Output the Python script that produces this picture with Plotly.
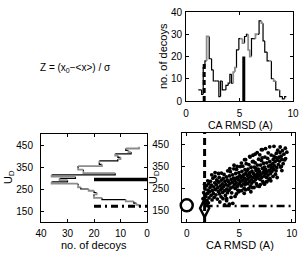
import plotly.graph_objects as go

# ---------------- data ----------------
# top-right histogram of CA RMSD (bin edges and counts)
rmsd_edges = [1.15, 1.46, 1.61, 1.77, 1.93, 2.17, 2.39, 2.55, 2.70, 2.86, 3.07, 3.23, 3.39, 3.57,
              3.73, 3.94, 4.10, 4.25, 4.41, 4.57, 4.72, 4.94, 5.09, 5.28, 5.47, 5.65, 5.81, 5.96,
              6.12, 6.27, 6.49, 6.68, 6.83, 7.05, 7.20, 7.36, 7.58, 7.76, 7.98, 8.20, 8.39, 8.60,
              8.76, 9.01, 9.22, 9.38]
rmsd_counts = [5, 3, 15, 18, 29, 19, 14, 9, 9, 9, 2, 9, 5, 5, 7, 8, 12, 8, 13, 15, 23, 28, 28,
               26, 29, 30, 23, 20, 28, 28, 30, 30, 36, 35, 27, 22, 18, 18, 10, 9, 5, 5, 2, 1, 2]
rmsd_gray_bins = [4, 18, 19, 22, 23, 26, 27, 30, 33, 37, 39, 41]

# bottom-left histogram of U_D (bin edges and counts)
ud_edges = [170, 178, 186, 194, 202, 210, 218, 226, 234, 242, 250, 258, 266, 274, 282, 290, 298,
            306, 314, 322, 330, 338, 346, 354, 362, 370, 378, 386, 394, 402, 410, 418, 426, 434, 442]
ud_counts = [3, 4, 5, 8, 17, 20, 20, 19, 20, 22, 25, 26, 26, 36, 30, 33, 27, 36, 12, 24, 24, 26,
             26, 17, 18, 18, 11, 10, 11, 12, 6, 7, 8, 3]

# markers
native_rmsd = 0.0
native_ud = 175
best_rmsd = 1.7
best_ud = 162
best_count = 18
mean_rmsd = 5.4
mean_rmsd_count = 20
ud_line = 172
ud_mean = 293
ud_mark_count = 20

# decoys: CA RMSD vs U_D
decoy_rmsd = [
    1.55, 1.62, 1.68, 1.74, 1.81, 1.86, 1.93, 1.97, 2.03, 2.08, 2.12, 2.06,
    2.17, 2.22, 2.26, 2.31, 2.35, 2.41, 2.44, 2.49, 2.53, 2.57, 2.62, 2.66, 2.69, 2.38,
    2.73, 2.78, 2.82, 2.86, 2.91, 2.95, 3.01, 3.05, 3.09, 3.13, 3.18, 3.22, 3.27, 3.29, 3.02, 3.15,
    3.34, 3.38, 3.42, 3.47, 3.51, 3.55, 3.59, 3.63, 3.68, 3.72, 3.76, 3.81, 3.85, 3.88, 3.61, 3.79,
    3.93, 3.97, 4.02, 4.06, 4.11, 4.15, 4.19, 4.23, 4.28, 4.32, 4.36, 4.41, 4.45, 4.48, 4.22, 4.38,
    4.53, 4.57, 4.61, 4.66, 4.70, 4.74, 4.79, 4.83, 4.87, 4.91, 4.96, 5.00, 5.04, 5.08, 4.72, 4.94, 4.63, 4.85,
    5.12, 5.16, 5.20, 5.25, 5.29, 5.33, 5.37, 5.42, 5.46, 5.50, 5.54, 5.58, 5.62, 5.66, 5.24, 5.47, 5.31, 5.56,
    5.71, 5.75, 5.79, 5.83, 5.87, 5.91, 5.95, 6.00, 6.04, 6.08, 6.12, 6.16, 6.21, 6.25, 5.86, 6.10, 5.97, 6.19, 5.73,
    6.30, 6.34, 6.38, 6.42, 6.46, 6.51, 6.55, 6.59, 6.63, 6.67, 6.72, 6.76, 6.80, 6.84, 6.40, 6.70, 6.57, 6.78, 6.33,
    6.89, 6.93, 6.97, 7.02, 7.06, 7.10, 7.14, 7.19, 7.23, 7.27, 7.31, 7.36, 7.40, 7.44, 7.00, 7.29, 7.17, 7.38, 6.95,
    7.48, 7.52, 7.57, 7.61, 7.65, 7.69, 7.73, 7.78, 7.82, 7.86, 7.90, 7.95, 7.99, 8.03, 7.63, 7.92, 7.75, 8.06,
    8.10, 8.14, 8.19, 8.23, 8.27, 8.31, 8.36, 8.40, 8.44, 8.48, 8.53, 8.57, 8.61, 8.66, 8.21, 8.50,
    8.72, 8.77, 8.82, 8.87, 8.93, 8.98, 9.04, 9.10, 9.17, 9.24, 9.31, 9.38, 9.52, 9.05, 8.89,
    5.50, 6.00, 6.50, 7.20, 4.50, 3.90, 2.90, 3.45, 4.05, 5.90, 6.60, 7.60,
    4.80, 5.20, 5.60, 6.02, 6.30, 6.70, 7.10, 7.50, 7.90, 8.30, 5.02, 5.60, 6.22, 6.90, 7.40,
    8.00, 8.60, 9.00, 9.40, 3.30, 2.70, 4.10, 2.00, 1.70, 3.80, 4.60,
]
decoy_ud = [
    205, 232, 188, 248, 214, 262, 196, 228, 243, 271, 208, 186,
    236, 255, 283, 219, 266, 199, 242, 297, 228, 258, 211, 276, 305, 312,
    246, 222, 268, 289, 203, 254, 237, 279, 301, 226, 262, 244, 213, 288, 318, 190,
    252, 271, 233, 296, 259, 314, 241, 282, 219, 268, 303, 248, 289, 232, 177, 196,
    262, 281, 243, 307, 271, 326, 253, 292, 231, 279, 312, 258, 297, 339, 211, 184,
    268, 286, 251, 318, 276, 337, 261, 301, 243, 289, 322, 272, 308, 349, 226, 236, 296, 262,
    283, 298, 262, 327, 287, 351, 271, 312, 252, 296, 335, 281, 319, 362, 241, 229, 306, 268,
    292, 309, 273, 338, 297, 358, 281, 322, 262, 305, 346, 289, 329, 371, 248, 236, 316, 275, 330,
    301, 318, 283, 347, 306, 366, 291, 331, 272, 314, 356, 298, 338, 382, 255, 262, 341, 321, 372,
    309, 327, 292, 356, 315, 376, 301, 341, 283, 322, 364, 307, 347, 392, 268, 276, 388, 331, 402,
    318, 336, 301, 366, 325, 386, 311, 351, 293, 333, 372, 317, 356, 401, 283, 296, 411, 343,
    327, 346, 362, 381, 337, 396, 352, 371, 315, 389, 409, 344, 378, 423, 305, 330,
    358, 391, 374, 412, 347, 396, 381, 421, 362, 405, 379, 432, 414, 331, 437,
    380, 395, 405, 425, 355, 330, 285, 205, 180, 250, 300, 280,
    350, 365, 380, 392, 400, 412, 425, 430, 438, 440, 240, 245, 255, 260, 270,
    285, 300, 350, 385, 320, 322, 340, 285, 270, 205, 215,
]

# tick values
rmsd_ticks = [0, 5, 10]
count_ticks = [0, 10, 20, 30, 40]
ud_ticks = [150, 250, 350, 450]

BLACK = "#000000"
GRAY = "#8c8c8c"
FONT = "Liberation Sans, Arial, Helvetica, sans-serif"


def stairs(edges, counts, gray_bins):
    """Build step-outline segments (position, count) split by colour."""
    segs = {BLACK: ([], []), GRAY: ([], [])}
    for i, c in enumerate(counts):
        col = GRAY if i in gray_bins else BLACK
        p, q = segs[col]
        if i > 0:
            p += [edges[i], edges[i]]
            q += [counts[i - 1], c]
        p += [edges[i], edges[i + 1], None]
        q += [c, c, None]
    return segs


fig = go.Figure()

# ---- top-right: histogram of RMSD ----
seg = stairs(rmsd_edges, rmsd_counts, set(rmsd_gray_bins))
for col, w in ((BLACK, 1.2), (GRAY, 1.8)):
    xs, ys = seg[col]
    fig.add_trace(go.Scatter(x=xs, y=ys, mode="lines", line=dict(color=col, width=w),
                             xaxis="x", yaxis="y", showlegend=False, connectgaps=False))
fig.add_trace(go.Scatter(x=[best_rmsd, best_rmsd], y=[0, best_count], mode="lines",
                         line=dict(color=BLACK, width=3, dash="5px,3px"),
                         xaxis="x", yaxis="y", showlegend=False))
fig.add_trace(go.Scatter(x=[mean_rmsd, mean_rmsd], y=[0, mean_rmsd_count], mode="lines",
                         line=dict(color=BLACK, width=3),
                         xaxis="x", yaxis="y", showlegend=False))

# ---- bottom-left: histogram of U_D (horizontal) ----
alt_gray = set(i for i in range(len(ud_counts)) if i % 2 == 1)
seg = stairs(ud_edges, ud_counts, alt_gray)
for col, w in ((BLACK, 1.2), (GRAY, 1.8)):
    ys, xs = seg[col]
    fig.add_trace(go.Scatter(x=xs, y=ys, mode="lines", line=dict(color=col, width=w),
                             xaxis="x2", yaxis="y2", showlegend=False, connectgaps=False))
fig.add_trace(go.Scatter(x=[ud_mark_count, 0], y=[ud_mean, ud_mean], mode="lines",
                         line=dict(color=BLACK, width=3.5),
                         xaxis="x2", yaxis="y2", showlegend=False))
fig.add_trace(go.Scatter(x=[ud_mark_count, 0], y=[ud_line, ud_line], mode="lines",
                         line=dict(color=BLACK, width=3, dash="7px,4px,2px,4px"),
                         xaxis="x2", yaxis="y2", showlegend=False))

# ---- bottom-right: scatter ----
fig.add_trace(go.Scatter(x=decoy_rmsd, y=decoy_ud, mode="markers",
                         marker=dict(color=BLACK, size=3.8, line=dict(width=0)),
                         xaxis="x3", yaxis="y3", showlegend=False))
fig.add_trace(go.Scatter(x=[best_rmsd, best_rmsd], y=[100, 500], mode="lines",
                         line=dict(color=BLACK, width=3, dash="7px,4px"),
                         xaxis="x3", yaxis="y3", showlegend=False))
fig.add_trace(go.Scatter(x=[best_rmsd, 10], y=[ud_line, ud_line], mode="lines",
                         line=dict(color=BLACK, width=2.5, dash="8px,4px,2px,4px"),
                         xaxis="x3", yaxis="y3", showlegend=False))
fig.add_trace(go.Scatter(x=[native_rmsd], y=[native_ud], mode="markers",
                         marker=dict(symbol="circle-open", size=12, color=BLACK,
                                     line=dict(color=BLACK, width=2.5)),
                         xaxis="x3", yaxis="y3", showlegend=False, cliponaxis=False))
fig.add_trace(go.Scatter(x=[best_rmsd], y=[best_ud], mode="markers",
                         marker=dict(symbol="diamond-tall-open", size=13, color=BLACK,
                                     line=dict(color=BLACK, width=2.5)),
                         xaxis="x3", yaxis="y3", showlegend=False, cliponaxis=False))

W, H = 304, 253


def px(x0, x1):
    return [x0 / W, x1 / W]


def py(y_top, y_bot):
    return [1 - y_bot / H, 1 - y_top / H]


axis_common = dict(showline=True, linecolor=BLACK, linewidth=1, mirror="ticks",
                   ticks="inside", ticklen=3, tickwidth=1, tickcolor=BLACK,
                   showgrid=False, zeroline=False, automargin=False,
                   tickfont=dict(family=FONT, size=10, color=BLACK))

fig.update_layout(
    width=W, height=H, margin=dict(l=0, r=0, t=0, b=0),
    paper_bgcolor="white", plot_bgcolor="white",
    font=dict(family=FONT, size=10, color=BLACK),
    xaxis=dict(domain=px(186, 293), anchor="y", range=[0, 10], tickvals=rmsd_ticks,
               ticklabelstandoff=3, **axis_common),
    yaxis=dict(domain=py(12, 101), anchor="x", range=[0, 40], tickvals=count_ticks,
               ticklabelstandoff=1, **axis_common),
    xaxis2=dict(domain=px(41, 147), anchor="y2", range=[40, 0], tickvals=count_ticks,
                ticklabelstandoff=2, **axis_common),
    yaxis2=dict(domain=py(134, 222), anchor="x2", range=[100, 500], tickvals=ud_ticks,
                ticklabelstandoff=5, **axis_common),
    xaxis3=dict(domain=px(182, 295), anchor="y3", range=[-0.45, 10.3], tickvals=rmsd_ticks,
                ticklabelstandoff=2, **axis_common),
    yaxis3=dict(domain=py(133, 222), anchor="x3", range=[100, 500], tickvals=ud_ticks,
                ticklabelstandoff=10, **axis_common),
)

ann = [
    dict(text="Z = (x<sub>0</sub>\u2212&lt;x&gt;) / \u03c3", x=75, y=68, size=10, angle=0),
    dict(text="no. of decoys", x=163, y=56, size=11, angle=-90),
    dict(text="CA RMSD (A)", x=240, y=125, size=10.5, angle=0),
    dict(text="U<sub>D</sub>", x=9, y=177, size=11, angle=-90),
    dict(text="no. of decoys", x=94, y=245, size=11, angle=0),
    dict(text="U<sub>D</sub>", x=154, y=177, size=11, angle=-90),
    dict(text="CA RMSD (A)", x=240, y=245, size=11, angle=0),
]
for a in ann:
    fig.add_annotation(text=a["text"], x=a["x"] / W, y=1 - a["y"] / H, xref="paper", yref="paper",
                       showarrow=False, textangle=a["angle"], xanchor="center", yanchor="middle",
                       font=dict(family=FONT, size=a["size"], color=BLACK))

fig.write_html("out.html", config={"displayModeBar": False},
               post_script="document.body.style.margin='0px';")
